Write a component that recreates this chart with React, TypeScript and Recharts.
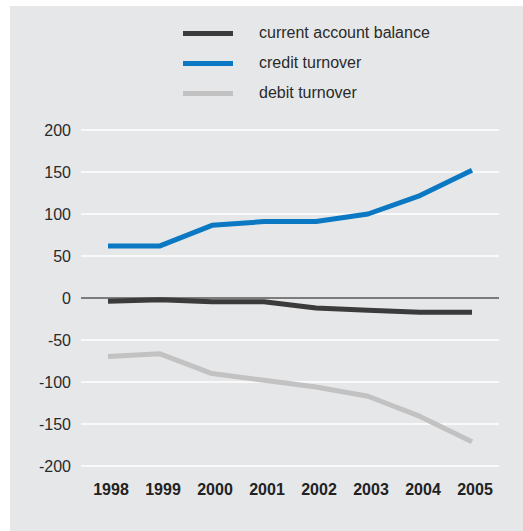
import React from "react";
import { LineChart, Line, XAxis, YAxis, CartesianGrid, ReferenceLine } from "recharts";

const years = ["1998", "1999", "2000", "2001", "2002", "2003", "2004", "2005"];
const currentAccount = [-4, -2, -4.5, -4.5, -12, -14.5, -17, -17];
const creditTurnover = [62, 62, 86.5, 91, 91, 100, 122, 152];
const debitTurnover = [-69.5, -66.5, -90, -98, -106, -117, -141, -171];
const yTicks = [-200, -150, -100, -50, 0, 50, 100, 150, 200];

const data = years.map((y, i) => ({
  year: y,
  current: currentAccount[i],
  credit: creditTurnover[i],
  debit: debitTurnover[i],
}));

const FONT = "'Liberation Sans', Arial, Helvetica, sans-serif";

const legendItems = [
  { key: "current", label: "current account balance", color: "#3b3b3b" },
  { key: "credit", label: "credit turnover", color: "#0a78c2" },
  { key: "debit", label: "debit turnover", color: "#c2c2c2" },
];

const LegendBox = () => (
  <div style={{ position: "absolute", left: 183, top: 18, fontFamily: FONT }}>
    {legendItems.map((it) => (
      <div key={it.key} style={{ display: "flex", alignItems: "center", height: 30 }}>
        <div style={{ width: 50, height: 5, background: it.color }} />
        <span style={{ marginLeft: 26, fontSize: 16, color: "#2a2a2a" }}>{it.label}</span>
      </div>
    ))}
  </div>
);

export default function App() {
  return (
    <div style={{ position: "absolute", left: 0, top: 0, width: 523, height: 531, overflow: "hidden" }}>
      <div style={{ position: "absolute", left: 10, top: 6, width: 513, height: 525, background: "#e6e7e9" }} />
      <div style={{ position: "absolute", left: 0, top: 0 }}>
        <LineChart
          width={523}
          height={531}
          data={data}
          margin={{ top: 130, right: 24, bottom: 35, left: 0 }}
          style={{ fontFamily: FONT }}
        >
          <CartesianGrid horizontal vertical={false} stroke="#ffffff" strokeWidth={1.5} />
          <XAxis
            dataKey="year"
            height={30}
            padding={{ left: 27, right: 27 }}
            axisLine={false}
            tickLine={false}
            tickSize={0}
            tickMargin={18}
            interval={0}
            tick={{ fill: "#222", fontSize: 16, fontWeight: "bold", dx: 3 }}
          />
          <YAxis
            width={81}
            domain={[-200, 200]}
            ticks={yTicks}
            axisLine={false}
            tickLine={false}
            tickSize={0}
            tickMargin={10}
            tick={{ fill: "#2a2a2a", fontSize: 16 }}
          />
          <ReferenceLine y={0} stroke="#000" strokeWidth={1.2} />
          <Line type="linear" dataKey="debit" stroke="#c2c2c2" strokeWidth={5} dot={false} isAnimationActive={false} strokeLinejoin="round" />
          <Line type="linear" dataKey="credit" stroke="#0a78c2" strokeWidth={5} dot={false} isAnimationActive={false} strokeLinejoin="round" />
          <Line type="linear" dataKey="current" stroke="#3b3b3b" strokeWidth={5} dot={false} isAnimationActive={false} strokeLinejoin="round" />
        </LineChart>
      </div>
      <LegendBox />
    </div>
  );
}
